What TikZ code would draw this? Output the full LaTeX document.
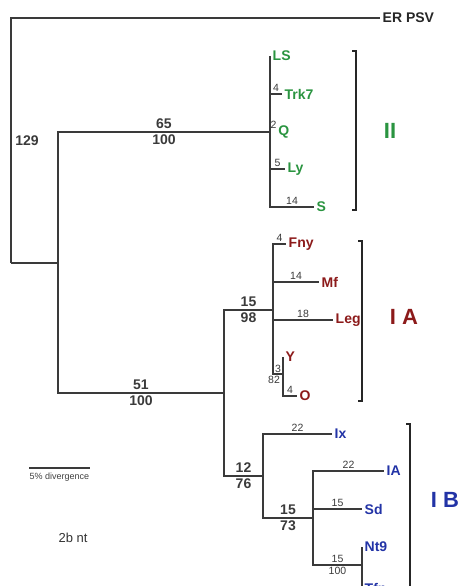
\documentclass[tikz,border=0pt]{standalone}
\usepackage{fontspec}
\setmainfont{Liberation Sans}
\usetikzlibrary{positioning}
\definecolor{cladeGreen}{HTML}{2A9440}
\definecolor{cladeRed}{HTML}{8C1A1A}
\definecolor{cladeBlue}{HTML}{2233A6}
\definecolor{treeGray}{HTML}{3A3A3A}

\begin{document}
\begin{tikzpicture}[x=1pt, y=-1pt,
  font=\bfseries\fontsize{14}{16}\selectfont,
  branch/.style={draw=treeGray, line width=1.3pt},
  bracket/.style={draw=black!85, line width=2pt},
  leaf/.style={anchor=west, inner sep=2.5pt, text=black!85},
  leafII/.style={leaf, text=cladeGreen},
  leafIA/.style={leaf, text=cladeRed},
  leafIB/.style={leaf, text=cladeBlue},
  blen/.style={font=\fontsize{10.5}{12}\selectfont, text=treeGray, inner sep=2pt},
  boot/.style={text=treeGray, inner sep=2.5pt},
  clade/.style={font=\bfseries\fontsize{22}{24}\selectfont},
]
\clip (0,0) rectangle (461,586);

% internal nodes
\coordinate (nRoot) at (11,263);
\coordinate (nA) at (58,263);
\coordinate (nII) at (270,132);
\coordinate (nI) at (224,393);
\coordinate (nIA) at (273,310);
\coordinate (nYO) at (283,374);
\coordinate (nIB) at (263,476);
\coordinate (nB2) at (313,518);
\coordinate (nNT) at (362,565);

% leaves
\node[leaf] (tER) at (380,18) {ER PSV};
\node[leafII] (tLS) at (270,56) {LS};
\node[leafII] (tTrk7) at (282,94) {Trk7};
\node[blen, anchor=south west, inner sep=0.5pt, yshift=3pt] (bQ) at (nII) {2};
\node[leafII, inner sep=1pt] (tQ) at (bQ.south east |- nII) {Q};
\node[leafII] (tLy) at (285,169) {Ly};
\node[leafII] (tS) at (314,207) {S};
\node[leafIA] (tFny) at (286,244) {Fny};
\node[leafIA] (tMf) at (319,282) {Mf};
\node[leafIA] (tLeg) at (333,320) {Leg};
\node[leafIA] (tY) at (283,357) {Y};
\node[leafIA] (tO) at (297,396) {O};
\node[leafIB] (tIx) at (332,434) {Ix};
\node[leafIB] (tIA) at (384,471) {IA};
\node[leafIB] (tSd) at (362,509) {Sd};
\node[leafIB] (tNt9) at (362,547) {Nt9};
\node[leafIB] (tTfn) at (362,588) {Tfn};

% branches
\draw[branch] (nRoot) |- (tER.west);
\draw[branch] (nRoot) -- (nA);
\node[boot] (s129) at (27,141) {129};
\draw[branch] (nA) |- (nII) node[boot, above, pos=0.75] {65} node[boot, below, pos=0.75] {100};
\draw[branch] (nA) |- (nI) node[boot, above, pos=0.75] {51} node[boot, below, pos=0.75] {100};

\draw[branch] (nII) |- (tLS.west);
\draw[branch] (nII) |- (tTrk7.west) node[blen, above, pos=0.75] {4};
\draw[branch] (nII) |- (tLy.west) node[blen, above, pos=0.75] {5};
\draw[branch] (nII) |- (tS.west) node[blen, above, pos=0.75] {14};

\draw[branch] (nI) |- (nIA) node[boot, above, pos=0.75] {15} node[boot, below, pos=0.75] {98};
\draw[branch] (nI) |- (nIB) node[boot, above, pos=0.75] {12} node[boot, below, pos=0.75] {76};

\draw[branch] (nIA) |- (tFny.west) node[blen, above, pos=0.75] {4};
\draw[branch] (nIA) |- (tMf.west) node[blen, above, pos=0.75] {14};
\draw[branch] (nIA) |- (tLeg.west) node[blen, above, pos=0.75] {18};
\draw[branch] (nIA) |- (nYO) node[blen, above, pos=0.75, inner sep=0.5pt] {3}
  node[blen, below, pos=0.75, xshift=-4pt] {82};
\draw[branch] (nYO) |- (tY.west);
\draw[branch] (nYO) |- (tO.west) node[blen, above, pos=0.75] {4};

\draw[branch] (nIB) |- (tIx.west) node[blen, above, pos=0.75] {22};
\draw[branch] (nIB) |- (nB2) node[boot, above, pos=0.75] {15} node[boot, below, pos=0.75] {73};
\draw[branch] (nB2) |- (tIA.west) node[blen, above, pos=0.75] {22};
\draw[branch] (nB2) |- (tSd.west) node[blen, above, pos=0.75] {15};
\draw[branch] (nB2) |- (nNT) node[blen, above, pos=0.75] {15} node[blen, below, pos=0.75] {100};
\draw[branch] (nNT) |- (tNt9.west);
\draw[branch] (nNT) |- (tTfn.west);

% clade brackets
\draw[bracket] (352,51) -- (356,51) -- (356,210) -- (352,210);
\node[clade, text=cladeGreen] (cII) at (390,131) {II};
\draw[bracket] (358,241) -- (362,241) -- (362,401) -- (358,401);
\node[clade, text=cladeRed] (cIA) at (404,317) {I A};
\draw[bracket] (406,424) -- (410,424) -- (410,600);
\node[clade, text=cladeBlue] (cIB) at (445,500) {I B};

% scale
\coordinate (sbL) at (29,468);
\coordinate (sbR) at (90,468);
\coordinate (sbM) at (59.5,468);
\draw[branch] (sbL) -- (sbR);
\node[font=\fontsize{9}{10}\selectfont, text=black!75, below=4pt of sbM, inner sep=1pt] (sbText) {5\% divergence};
\node[font=\fontsize{13}{15}\selectfont, text=black!80] (ntLabel) at (73,538) {2b nt};
\end{tikzpicture}
\end{document}
